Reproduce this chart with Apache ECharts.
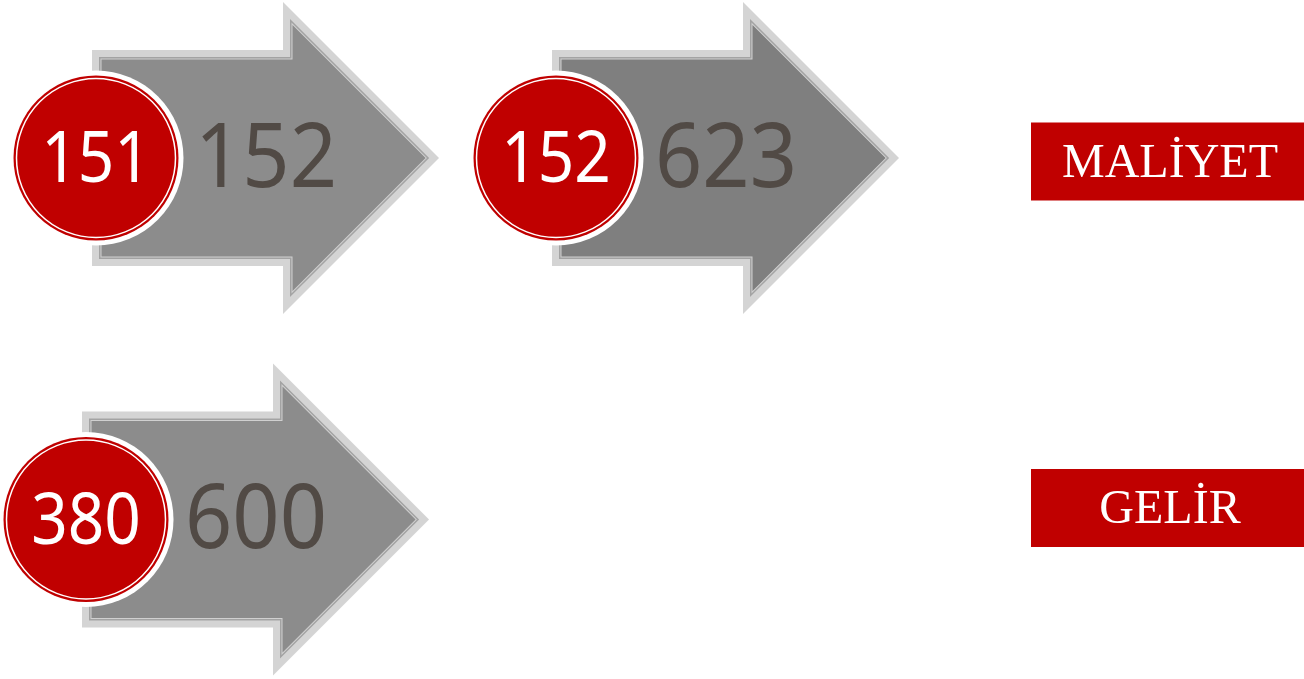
<!DOCTYPE html>
<html>
<head>
<meta charset="utf-8">
<script src="https://cdn.jsdelivr.net/npm/echarts@6/dist/echarts.min.js"></script>
<style>
  html, body { margin: 0; padding: 0; background: #fff; }
  #main { width: 1304px; height: 679px; }
</style>
</head>
<body>
<div id="main"></div>
<script>
// rows shown as labels on the right
const categories = ['MALİYET', 'GELİR'];
// each arrow: which row it sits in, its step along the row, and the two numbers
const stepRow = ['MALİYET', 'MALİYET', 'GELİR'];
const stepIndex = [0, 1, 0];
const startValues = [151, 152, 380];
const endValues = [152, 623, 600];

// styling only
const arrowFills = ['#8c8c8c', '#7f7f7f', '#8c8c8c'];
const rowShift = [0, -10];
const red = '#c00000';

const seriesData = stepRow.map((r, i) => [stepIndex[i], r, startValues[i], endValues[i]]);

function arrowPoints(cx, cy, d) {
  const L = cx - 4 + d;
  const S = 108 - d;
  const H = cx + 187 + d;
  const T = cx + 343 - d * Math.SQRT2;
  const HH = T - H;
  return [[L, cy - S], [H, cy - S], [H, cy - HH], [T, cy], [H, cy + HH], [H, cy + S], [L, cy + S]];
}

function renderItem(params, api) {
  const i = params.dataIndex;
  const p = api.coord([api.value(0), api.value(1)]);
  const row = categories.indexOf(stepRow[i]);
  const cx = p[0] + rowShift[row];
  const cy = p[1];
  const poly = (d, fill) => ({ type: 'polygon', shape: { points: arrowPoints(cx, cy, d) }, style: { fill: fill } });
  return {
    type: 'group',
    children: [
      poly(0, '#d4d4d4'),
      poly(7, '#a3a3a3'),
      poly(8.5, '#d0d0d0'),
      poly(9.5, arrowFills[i]),
      {
        type: 'text', x: cx + 170, y: cy + 3, scaleX: 0.92,
        style: { x: 0, y: 0, text: String(api.value(3)), fill: '#514a45',
          font: '90px "Noto Sans"', align: 'center', verticalAlign: 'middle' }
      },
      { type: 'circle', shape: { cx: cx, cy: cy, r: 87.5 }, style: { fill: '#fff' } },
      { type: 'circle', shape: { cx: cx, cy: cy, r: 82.5 }, style: { fill: red } },
      { type: 'circle', shape: { cx: cx, cy: cy, r: 79.5 }, style: { fill: 'none', stroke: '#fff', lineWidth: 1.5 } },
      {
        type: 'text', x: cx, y: cy + 4, scaleX: 0.9,
        style: { x: 0, y: 0, text: String(api.value(2)), fill: '#fff',
          font: '71px "Noto Sans"', align: 'center', verticalAlign: 'middle' }
      }
    ]
  };
}

const chart = echarts.init(document.getElementById('main'));
chart.setOption({
  backgroundColor: '#fff',
  animation: false,
  grid: [
    { left: 96, width: 460, top: 158, height: 361.5, outerBoundsMode: 'none' },
    { left: 900, right: 273, top: 161.5, height: 346.5, outerBoundsMode: 'none' }
  ],
  xAxis: [
    { gridIndex: 0, type: 'value', min: 0, max: 1, show: false },
    { gridIndex: 1, type: 'value', min: 0, max: 1, show: false }
  ],
  yAxis: [
    { gridIndex: 0, type: 'category', data: categories, inverse: true, boundaryGap: false, show: false },
    {
      gridIndex: 1, type: 'category', data: categories, inverse: true, boundaryGap: false,
      position: 'right',
      axisLine: { show: false }, axisTick: { show: false }, splitLine: { show: false },
      axisLabel: {
        margin: 0,
        formatter: v => '{box|' + v + '}',
        rich: {
          box: {
            width: 268, height: 73, lineHeight: 73, align: 'center',
            padding: [5, 0, 0, 5],
            backgroundColor: red, color: '#fff',
            fontFamily: '"Liberation Serif", serif', fontSize: 48
          }
        }
      }
    }
  ],
  series: [{
    type: 'custom',
    xAxisIndex: 0,
    yAxisIndex: 0,
    encode: { x: 0, y: 1 },
    data: seriesData,
    renderItem: renderItem
  }]
});
</script>
</body>
</html>
